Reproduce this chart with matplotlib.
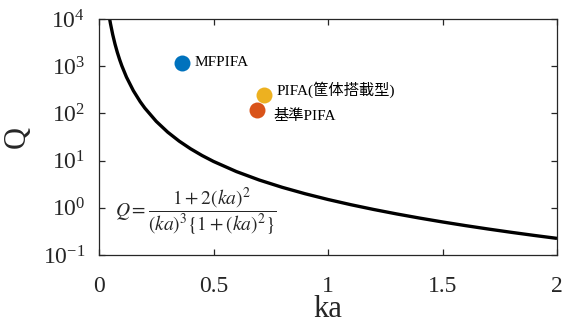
import matplotlib
matplotlib.use("Agg")
import matplotlib.pyplot as plt
from matplotlib.ticker import LogLocator, NullLocator

plt.rcParams['font.family'] = ['Liberation Serif', 'Noto Sans CJK JP']
plt.rcParams['mathtext.fontset'] = 'stix'
plt.rcParams['axes.unicode_minus'] = False

# Theoretical curve Q vs ka
ka_curve = [0.04, 0.046, 0.05, 0.06, 0.07, 0.08, 0.09, 0.10, 0.12, 0.15, 0.18, 0.20,
            0.25, 0.30, 0.35, 0.40, 0.45, 0.50, 0.60, 0.70, 0.80, 0.90, 1.00, 1.10,
            1.20, 1.30, 1.40, 1.50, 1.60, 1.70, 1.80, 1.90, 2.00]
q_curve = [15650, 10296, 8020, 4646, 2930, 1965.5, 1382.8, 1009.9, 586.9, 302.8, 176.85, 129.8,
           67.76, 40.09, 25.87, 17.78, 12.82, 9.6, 5.855, 3.874, 2.715, 1.986, 1.5, 1.1627,
           0.9202, 0.7411, 0.6057, 0.5014, 0.4197, 0.3548, 0.3025, 0.26, 0.225]

# Antenna points
ant_names = ['MFPIFA', 'PIFA(筐体搭載型)', '基準PIFA']
ant_ka = [0.363, 0.722, 0.689]
ant_q = [1170, 245, 118]
ant_colors = ['#0072BD', '#EDB120', '#D95319']
label_offsets = [(9, 0), (9, 4), (12, -4.5)]

xticks = [0, 0.5, 1, 1.5, 2]
xticklabels = ['0', '0.5', '1', '1.5', '2']

fig = plt.figure(figsize=(5.64, 3.27), dpi=100)
ax = fig.add_axes([99/564, 1-255/327, (557-99)/564, (255-19)/327])

ax.plot(ka_curve, q_curve, color='black', lw=2.4, solid_capstyle='butt')
for n, x, y, c, off in zip(ant_names, ant_ka, ant_q, ant_colors, label_offsets):
    ax.plot([x], [y], 'o', color=c, ms=11.5, mec='none', zorder=3)
    ax.annotate(n, (x, y), xytext=off, textcoords='offset points',
                ha='left', va='center', fontsize=11)

ax.set_yscale('log')
ax.set_xlim(0, 2)
ax.set_ylim(1e-1, 1e4)
ax.yaxis.set_major_locator(LogLocator(base=10, numticks=10))
ax.yaxis.set_minor_locator(NullLocator())
ax.set_xticks(xticks)
ax.set_xticklabels(xticklabels)

for s in ax.spines.values():
    s.set_color('#262626')
    s.set_linewidth(0.9)
ax.tick_params(direction='in', length=4, width=0.9, color='#262626',
               top=True, right=True, labelsize=17, labelcolor='#262626')
ax.tick_params(axis='x', pad=15)
ax.tick_params(axis='y', pad=10)

ax.set_xlabel('ka', fontsize=22, labelpad=-1, color='#262626')
ax.set_ylabel('Q', fontsize=22, labelpad=8, color='#262626')

ax.text(0.035, 0.185, r'$Q=\dfrac{1+2(ka)^2}{(ka)^3\{1+(ka)^2\}}$',
        transform=ax.transAxes, ha='left', va='center', fontsize=14, color='#262626')

fig.savefig('out.png', dpi=100)
